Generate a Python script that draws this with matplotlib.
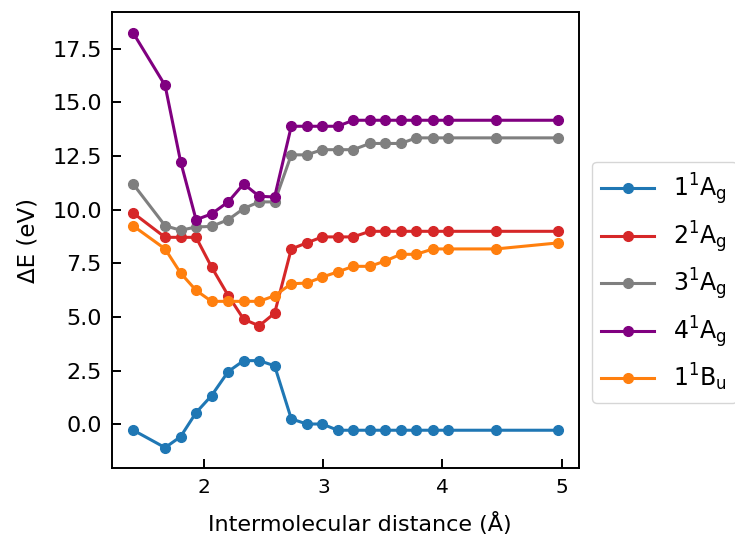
import matplotlib
matplotlib.use("Agg")
import matplotlib.pyplot as plt

distance = [1.40, 1.67, 1.80, 1.93, 2.06, 2.20, 2.33, 2.46, 2.59, 2.73, 2.86,
            2.99, 3.12, 3.25, 3.39, 3.52, 3.65, 3.78, 3.92, 4.05, 4.45, 4.97]

e_1Ag = [-0.26, -1.08, -0.57, 0.55, 1.34, 2.46, 2.97, 2.97, 2.73, 0.26, 0.02,
         0.02, -0.27, -0.27, -0.27, -0.27, -0.27, -0.27, -0.27, -0.27, -0.27, -0.27]
e_2Ag = [9.85, 8.71, 8.71, 8.71, 7.33, 6.00, 4.90, 4.59, 5.18, 8.17, 8.45,
         8.73, 8.73, 8.73, 8.99, 8.99, 8.99, 8.99, 8.99, 8.99, 8.99, 8.99]
e_3Ag = [11.20, 9.25, 9.04, 9.19, 9.22, 9.53, 10.05, 10.36, 10.36, 12.55, 12.55,
         12.79, 12.79, 12.79, 13.08, 13.08, 13.08, 13.34, 13.34, 13.34, 13.34, 13.34]
e_4Ag = [18.24, 15.78, 12.24, 9.53, 9.80, 10.36, 11.20, 10.62, 10.59, 13.88, 13.88,
         13.88, 13.88, 14.16, 14.16, 14.16, 14.16, 14.16, 14.16, 14.16, 14.16, 14.16]
e_1Bu = [9.25, 8.17, 7.05, 6.24, 5.73, 5.73, 5.73, 5.73, 5.99, 6.55, 6.58,
         6.86, 7.10, 7.36, 7.36, 7.61, 7.92, 7.92, 8.17, 8.17, 8.17, 8.45]

labels = [r"$\mathrm{1^1A_g}$", r"$\mathrm{2^1A_g}$", r"$\mathrm{3^1A_g}$",
          r"$\mathrm{4^1A_g}$", r"$\mathrm{1^1B_u}$"]
colors = ["#1f77b4", "#d62728", "#7f7f7f", "purple", "#ff7f0e"]
series = [e_1Ag, e_2Ag, e_3Ag, e_4Ag, e_1Bu]

fig = plt.figure(figsize=(7.35, 5.39), dpi=100)
ax = fig.add_axes([0.152, 0.131, 0.636, 0.847])

for ys, lab, c in zip(series, labels, colors):
    ax.plot(distance, ys, "-o", color=c, label=lab, linewidth=2.2, markersize=7)

ax.set_xticks([2, 3, 4, 5])
ax.set_yticks([0.0, 2.5, 5.0, 7.5, 10.0, 12.5, 15.0, 17.5])
ax.tick_params(direction="in", length=6.5, width=1.4, pad=7)
ax.tick_params(axis="y", labelsize=16)
ax.tick_params(axis="x", labelsize=14.5)
for s in ax.spines.values():
    s.set_linewidth(1.4)

ax.set_xlabel("Intermolecular distance (Å)", fontsize=16, labelpad=8)
ax.xaxis.set_label_coords(0.531, -0.095)
ax.set_ylabel("ΔE (eV)", fontsize=16.5, labelpad=9)

ax.legend(loc="upper left", bbox_to_anchor=(1.027, 0.672), fontsize=17,
          borderaxespad=0, labelspacing=0.5, handlelength=2.25)

fig.savefig("out.png", dpi=100)
